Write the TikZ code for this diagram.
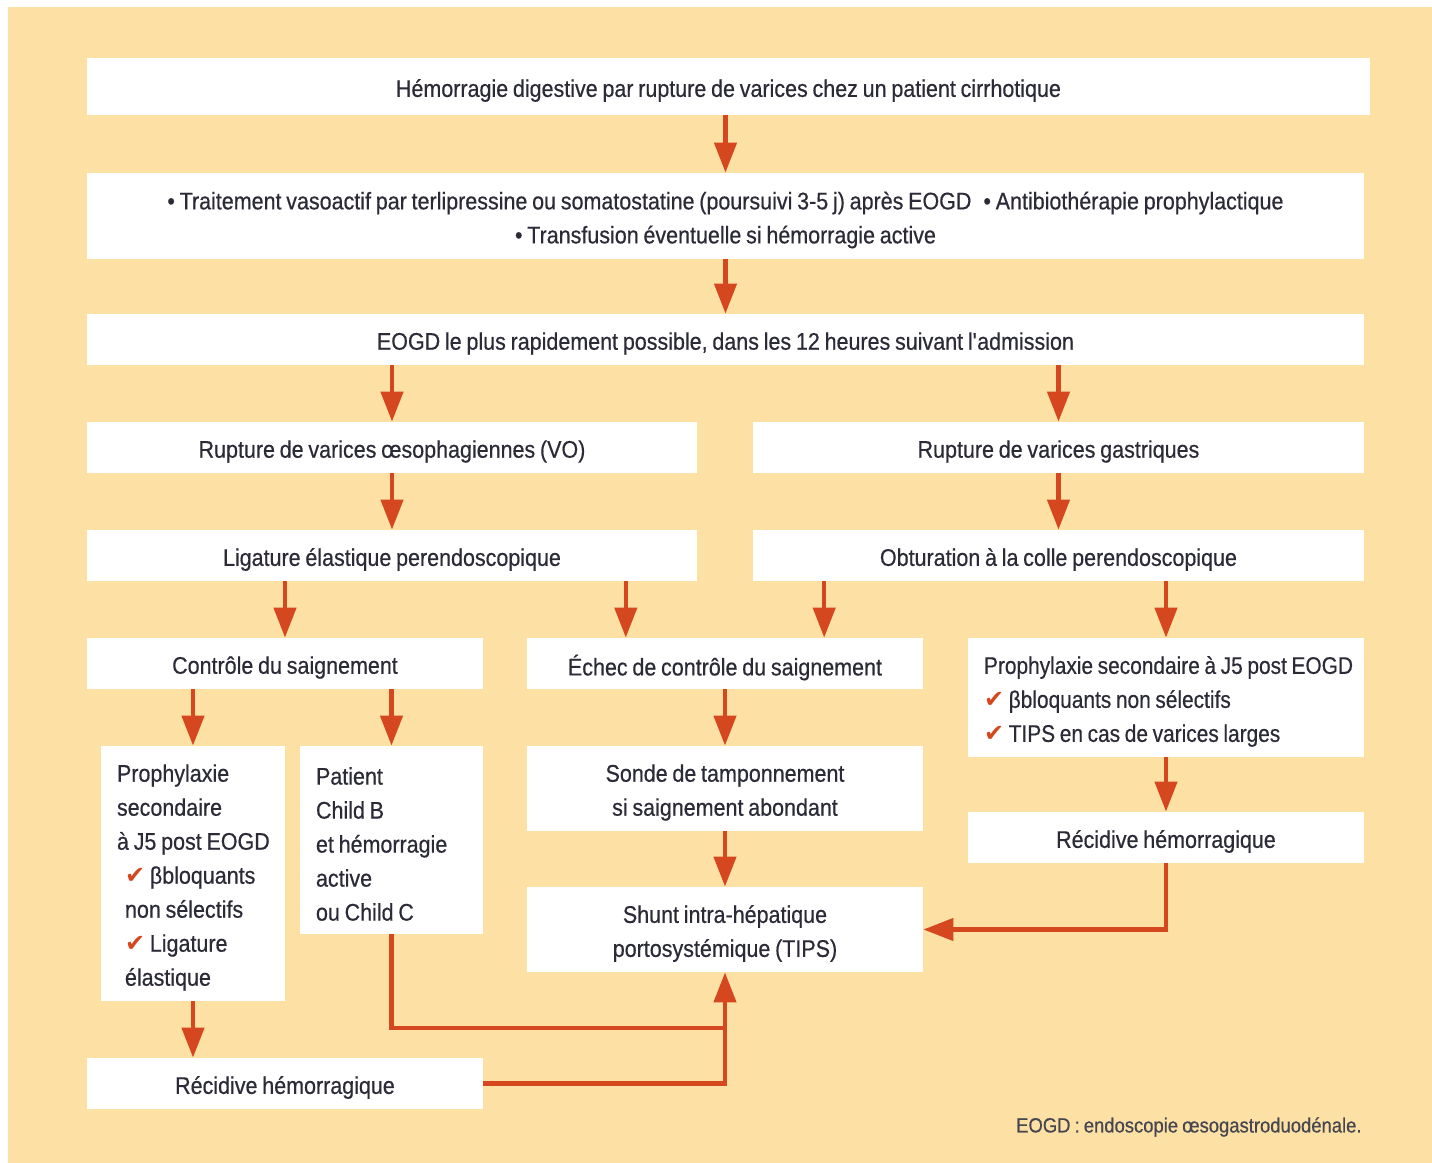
\documentclass[tikz,border=0pt]{standalone}
\usepackage{fontspec}
\setmainfont{Liberation Sans}[FakeStretch=0.895,FakeBold=0.5,WordSpace=0.8]
\newfontfamily\narrowfont{Liberation Sans}[FakeStretch=0.87,FakeBold=0.5,WordSpace=0.8]
\newfontfamily\dingfont{DejaVu Sans}
\usetikzlibrary{arrows.meta,calc}
\definecolor{pagebg}{RGB}{253,224,164}
\definecolor{arrowred}{RGB}{213,71,30}
\definecolor{inktext}{RGB}{43,43,56}
\definecolor{notetext}{RGB}{70,70,80}
% red check mark used in the lists
\newcommand\checkmk{{\color{arrowred}\dingfont ✔}}
% \flowbox[text options]{name}{x1}{y1}{x2}{y2}{text}:
% a white box given by its corners, with its text set a little below centre
\newcommand\flowbox[7][]{%
  \node[box,minimum width={(#5-#3)*0.5pt},minimum height={(#6-#4)*0.5pt}]
    (#2) at ({(#3+#5)/2},{(#4+#6)/2}) {};
  \node[boxtext,#1] (#2-t) at ([yshift=-2pt]#2.center) {#7};}
\begin{document}
\begin{tikzpicture}[x=0.5pt,y=-0.5pt,
  box/.style={fill=white,inner sep=0pt},
  boxtext/.style={inner sep=0pt,align=center,text=inktext,
    font=\fontsize{12}{17}\selectfont},
  lbox/.style={align=flush left,text width=#1},
  arr/.style={draw=arrowred,line width=2.2pt,line join=miter,
    -{Triangle[length=15pt,width=11pt]}},
  link/.style={draw=arrowred,line width=2.2pt,line join=miter}]

\useasboundingbox (0,0) rectangle (1432,1163);
\fill[white] (0,0) rectangle (1432,1163);
\fill[pagebg] (8,7) rectangle (1432,1163);

% main column
\flowbox{top}{87}{58}{1370}{115}{Hémorragie digestive par rupture de varices chez un patient cirrhotique}
\flowbox{care}{87}{173}{1364}{259}{\textbullet\ Traitement vasoactif par terlipressine ou somatostatine (poursuivi 3-5 j) après EOGD\hspace{6pt}\textbullet\ Antibiothérapie prophylactique\\\textbullet\ Transfusion éventuelle si hémorragie active}
\flowbox{eogd}{87}{314}{1364}{365}{EOGD le plus rapidement possible, dans les 12 heures suivant l\textquotesingle admission}

% oesophageal / gastric branches
\flowbox{vo}{87}{422}{697}{473}{Rupture de varices œsophagiennes (VO)}
\flowbox{vg}{753}{422}{1364}{473}{Rupture de varices gastriques}
\flowbox{lig}{87}{530}{697}{581}{Ligature élastique perendoscopique}
\flowbox{obt}{753}{530}{1364}{581}{Obturation à la colle perendoscopique}

% outcomes
\flowbox{ctrl}{87}{638}{483}{689}{Contrôle du saignement}
\flowbox{fail}{527}{638}{923}{689}{Échec de contrôle du saignement}
\flowbox[lbox=182pt,font=\fontsize{12}{17}\narrowfont]{prophg}{968}{638}{1364}{757}{\mbox{Prophylaxie secondaire à J5 post EOGD}\\\mbox{\checkmk\ βbloquants non sélectifs}\\\mbox{\checkmk\ TIPS en cas de varices larges}}
\flowbox[lbox=76pt]{prophv}{101}{746}{285}{1001}{Prophylaxie\\secondaire\\\mbox{à J5 post EOGD}\\\hspace*{4pt}\mbox{\checkmk\ βbloquants}\\\hspace*{4pt}non sélectifs\\\hspace*{4pt}\checkmk\ Ligature\\\hspace*{4pt}élastique}
\flowbox[lbox=75.5pt]{child}{300}{746}{483}{934}{Patient\\Child B\\et hémorragie\\active\\ou Child C}
\flowbox{sonde}{527}{746}{923}{831}{Sonde de tamponnement\\si saignement abondant}
\flowbox{tips}{527}{887}{923}{972}{Shunt intra-hépatique\\portosystémique (TIPS)}
\flowbox{recg}{968}{812}{1364}{863}{Récidive hémorragique}
\flowbox{recv}{87}{1058}{483}{1109}{Récidive hémorragique}

\node[anchor=east,inner sep=0pt,text=notetext,font=\fontsize{10.3}{12}\selectfont]
  (note) at (1362,1127) {EOGD : endoscopie œsogastroduodénale.};

% connectors
\draw[arr] (care.north |- top.south) -- (care.north);
\draw[arr] (care.south) -- (eogd.north);
\draw[arr] (vo.north |- eogd.south) -- (vo.north);
\draw[arr] (vg.north |- eogd.south) -- (vg.north);
\draw[arr] (vo.south) -- (lig.north);
\draw[arr] (vg.south) -- (obt.north);
\coordinate (failL) at ($(fail.north west)!0.25!(fail.north east)$);
\coordinate (failR) at ($(fail.north west)!0.75!(fail.north east)$);
\draw[arr] (ctrl.north |- lig.south) -- (ctrl.north);
\draw[arr] (failL |- lig.south) -- (failL);
\draw[arr] (failR |- obt.south) -- (failR);
\draw[arr] (prophg.north |- obt.south) -- (prophg.north);
\draw[arr] (prophv.north |- ctrl.south) -- (prophv.north);
\draw[arr] (child.north |- ctrl.south) -- (child.north);
\draw[arr] (fail.south) -- (sonde.north);
\draw[arr] (sonde.south) -- (tips.north);
\draw[arr] (prophg.south) -- (recg.north);
\draw[arr] (recg.south) |- (tips.east);
\draw[arr] (prophv.south) -- (prophv.south |- recv.north);
\coordinate (merge) at (tips.south |- 0,1028);
\draw[link] (child.south) |- (merge);
\draw[arr] (recv.east) -| (tips.south);
\end{tikzpicture}
\end{document}
